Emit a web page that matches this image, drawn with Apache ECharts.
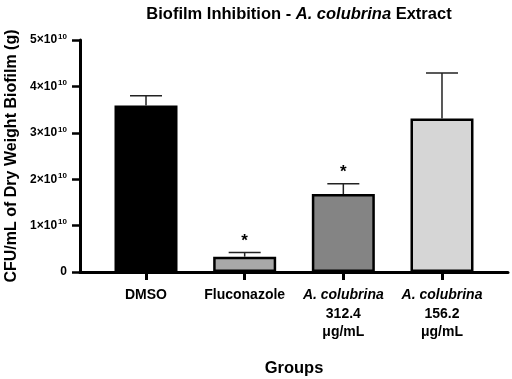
<!DOCTYPE html>
<html><head><meta charset="utf-8">
<script src="https://cdn.jsdelivr.net/npm/echarts@6/dist/echarts.min.js"></script>
<style>html,body{margin:0;padding:0;background:#fff}#c{width:512px;height:379px}</style>
</head><body><div id="c"></div>
<script>
var categories = ['DMSO', 'Fluconazole', 'A. colubrina 312.4 μg/mL', 'A. colubrina 156.2 μg/mL'];
var means = [3.59e10, 0.33e10, 1.68e10, 3.31e10];
var upper = [3.80e10, 0.42e10, 1.90e10, 4.29e10];
var barColors = ['#000000', '#a8a8a8', '#848484', '#d6d6d6'];
var significance = ['', '*', '*', ''];
var yTicks = [0, 1e10, 2e10, 3e10, 4e10, 5e10];

var F = 'Liberation Sans, Arial, sans-serif';
var chart = echarts.init(document.getElementById('c'));
var pos = categories.map(function(_, i){ return i; });

function xLabel(v){
  var i = Math.round(v);
  if (i === 0) return '{b|DMSO}';
  if (i === 1) return '{b|Fluconazole}';
  var parts = categories[i].split(' ');
  return '{i|' + parts[0] + ' ' + parts[1] + '}\n{b|' + parts[2] + '}\n{b|' + parts[3] + '}';
}

chart.setOption({
  animation: false,
  title: {
    text: '{t|Biofilm Inhibition - }{ti|A. colubrina}{t| Extract}',
    left: 294, top: 1, textAlign: 'center',
    textStyle: { rich: {
      t: {fontFamily: F, fontWeight: 'bold', fontSize: 16.5, color: '#000'},
      ti: {fontFamily: F, fontWeight: 'bold', fontStyle: 'italic', fontSize: 16.5, color: '#000'}
    }}
  },
  grid: { left: 80, right: 4, top: 40, bottom: 107, containLabel: false, outerBoundsMode: 'none' },
  xAxis: {
    type: 'value', min: -0.669, max: 3.669,
    splitLine: {show: false},
    axisLine: {show: true, onZero: false, lineStyle: {color: '#000', width: 3}},
    axisTick: {show: true, customValues: pos, length: 8, lineStyle: {color: '#000', width: 3}},
    axisLabel: {show: true, customValues: pos, margin: 14, formatter: xLabel, lineHeight: 18.5,
      rich: {
        b: {fontFamily: F, fontWeight: 'bold', fontSize: 14, color: '#000', lineHeight: 18.5},
        i: {fontFamily: F, fontWeight: 'bold', fontStyle: 'italic', fontSize: 14, color: '#000', lineHeight: 18.5}
      }},
    name: 'Groups', nameLocation: 'middle', nameGap: 88,
    nameTextStyle: {fontFamily: F, fontWeight: 'bold', fontSize: 16.5, color: '#000'}
  },
  yAxis: {
    type: 'value', min: 0, max: 5e10, interval: 1e10,
    splitLine: {show: false},
    axisLine: {show: true, onZero: false, lineStyle: {color: '#000', width: 3}},
    axisTick: {show: true, inside: false, length: 8, lineStyle: {color: '#000', width: 2.5}},
    axisLabel: {margin: 13, formatter: function(v){
        if (v === 0) return '{a|0}';
        return '{a|' + Math.round(v/1e10) + '×10}{s|10}';
      },
      rich: {
        a: {fontFamily: F, fontWeight: 'bold', fontSize: 12, color: '#000'},
        s: {fontFamily: F, fontWeight: 'bold', fontSize: 8, color: '#000', padding: [0,0,7,1]}
      }},
    name: 'CFU/mL of Dry Weight Biofilm (g)', nameLocation: 'middle', nameGap: 59,
    nameTextStyle: {fontFamily: F, fontWeight: 'bold', fontSize: 16, color: '#000'}
  },
  series: [
    {
      type: 'bar', barWidth: 63,
      data: means.map(function(m, i){
        return {value: [i, m], itemStyle: {color: barColors[i], borderColor: '#000', borderWidth: 2.5}};
      })
    },
    {
      type: 'custom',
      data: means.map(function(m, i){ return [i, m, upper[i]]; }),
      renderItem: function(params, api){
        var i = api.value(0);
        var top = api.coord([i, api.value(1)]);
        var hi = api.coord([i, api.value(2)]);
        var half = 16;
        var children = [
          {type: 'line', shape: {x1: top[0], y1: top[1], x2: hi[0], y2: hi[1]}, style: {stroke: '#222', lineWidth: 1.5}},
          {type: 'line', shape: {x1: hi[0]-half, y1: hi[1], x2: hi[0]+half, y2: hi[1]}, style: {stroke: '#222', lineWidth: 1.5}}
        ];
        var s = significance[params.dataIndex];
        if (s) {
          children.push({type: 'text', style: {text: s, x: hi[0], y: hi[1]-3, textAlign: 'center', textVerticalAlign: 'bottom',
            font: 'bold 17px ' + F, fill: '#000'}});
        }
        return {type: 'group', children: children};
      },
      z: 3
    }
  ]
});
</script>
</body></html>
